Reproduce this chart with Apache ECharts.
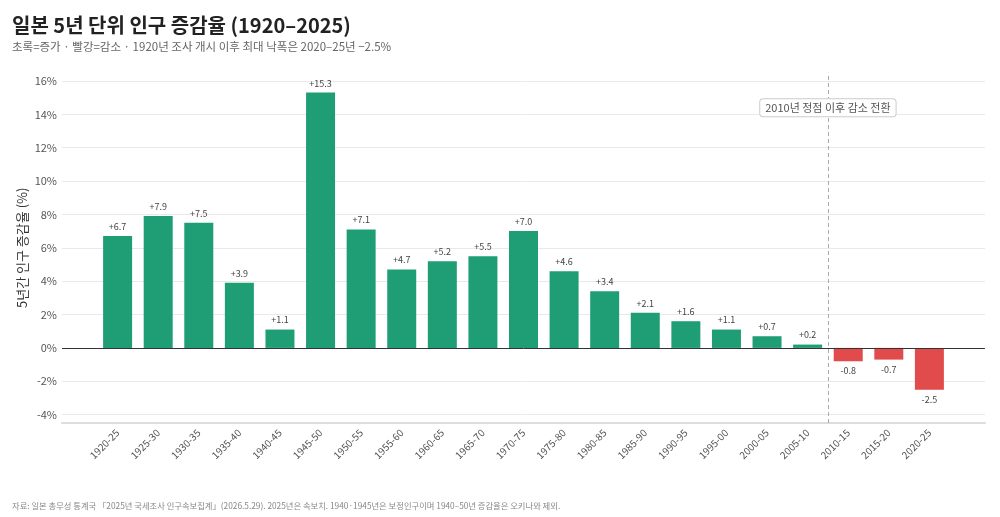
<!DOCTYPE html>
<html><head><meta charset="utf-8">
<script src="https://cdn.jsdelivr.net/npm/echarts@6/dist/echarts.min.js"></script>
<style>html,body{margin:0;padding:0;background:#fff}#c{width:1000px;height:517px}</style>
</head><body><div id="c"></div>
<script>
const categories = ['1920-25','1925-30','1930-35','1935-40','1940-45','1945-50','1950-55','1955-60','1960-65','1965-70','1970-75','1975-80','1980-85','1985-90','1990-95','1995-00','2000-05','2005-10','2010-15','2015-20','2020-25'];
const rates = [6.7, 7.9, 7.5, 3.9, 1.1, 15.3, 7.1, 4.7, 5.2, 5.5, 7.0, 4.6, 3.4, 2.1, 1.6, 1.1, 0.7, 0.2, -0.8, -0.7, -2.5];
const yTicks = [-4, -2, 0, 2, 4, 6, 8, 10, 12, 14, 16];
const peakMarkerX = 17.5;
const annotationY = 14.4;
const annotationText = '2010년 정점 이후 감소 전환';

const FONT = '"Noto Sans CJK KR", "Noto Sans", sans-serif';
const GREEN = '#1f9e76';
const RED = '#e14b4b';

const chart = echarts.init(document.getElementById('c'), null, {renderer: 'canvas'});
const data = rates.map((v, i) => ({
  value: [i, v],
  itemStyle: {color: v >= 0 ? GREEN : RED},
  label: {position: v >= 0 ? 'top' : 'bottom'}
}));

chart.setOption({
  animation: false,
  textStyle: {fontFamily: FONT},
  title: [
    {text: '일본 5년 단위 인구 증감율 (1920–2025)', left: 12, top: 15, padding: 0,
     textStyle: {fontFamily: FONT, fontSize: 20, fontWeight: 'bold', color: '#222'}},
    {text: '초록=증가 · 빨강=감소 · 1920년 조사 개시 이후 최대 낙폭은 2020–25년 −2.5%', left: 12, top: 41, padding: 0,
     textStyle: {fontFamily: FONT, fontSize: 11.5, fontWeight: 'normal', color: '#666'}},
    {text: '자료: 일본 총무성 통계국 「2025년 국세조사 인구속보집계」(2026.5.29). 2025년은 속보치. 1940·1945년은 보정인구이며 1940–50년 증감율은 오키나와 제외.',
     left: 12, top: 502, padding: 0, textStyle: {fontFamily: FONT, fontSize: 8.3, fontWeight: 'normal', color: '#888'}}
  ],
  grid: {left: 62, right: 15, top: 72.6, bottom: 94, containLabel: false},
  xAxis: {
    type: 'value', min: -1.37, max: 21.37,
    axisLine: {show: true, onZero: false, lineStyle: {color: '#dddddd', width: 2}},
    axisTick: {show: false, customValues: categories.map((c, i) => i)},
    splitLine: {show: false},
    axisLabel: {
      customValues: categories.map((c, i) => i),
      formatter: v => categories[Math.round(v)] || '',
      rotate: 45, fontSize: 10, color: '#555', margin: 8, fontFamily: FONT
    }
  },
  yAxis: {
    type: 'value', min: -4.5, max: 16.5,
    name: '5년간 인구 증감율 (%)', nameLocation: 'middle', nameGap: 33, nameMoveOverlap: false,
    nameTextStyle: {fontSize: 13, color: '#333', fontFamily: FONT},
    axisLine: {show: false},
    axisTick: {show: false, customValues: yTicks},
    axisLabel: {customValues: yTicks, formatter: v => v + '%', fontSize: 11, color: '#555', margin: 5, fontFamily: FONT},
    splitLine: {show: true, lineStyle: {color: '#e9e9e9', width: 1}}
  },
  series: [{
    type: 'bar',
    data: data,
    barWidth: 29,
    label: {
      show: true, fontSize: 9, color: '#444', distance: 5, fontFamily: FONT,
      formatter: p => (p.value[1] > 0 ? '+' : '') + p.value[1].toFixed(1)
    },
    markLine: {
      silent: true, symbol: 'none', animation: false,
      label: {show: false},
      data: [
        {yAxis: 0, lineStyle: {color: '#333', width: 1, type: 'solid'}},
        {xAxis: peakMarkerX, lineStyle: {color: '#aaa', width: 1, type: [4, 3]}}
      ]
    },
    markPoint: {
      silent: true, symbol: 'circle', symbolSize: 0, animation: false,
      data: [{coord: [peakMarkerX, annotationY], value: annotationText}],
      label: {
        show: true, position: 'inside', formatter: annotationText,
        fontSize: 11, color: '#555', fontFamily: FONT,
        backgroundColor: '#fff', borderColor: '#ccc', borderWidth: 1, borderRadius: 3,
        padding: [3, 5, 3, 5]
      }
    }
  }]
});
</script></body></html>
